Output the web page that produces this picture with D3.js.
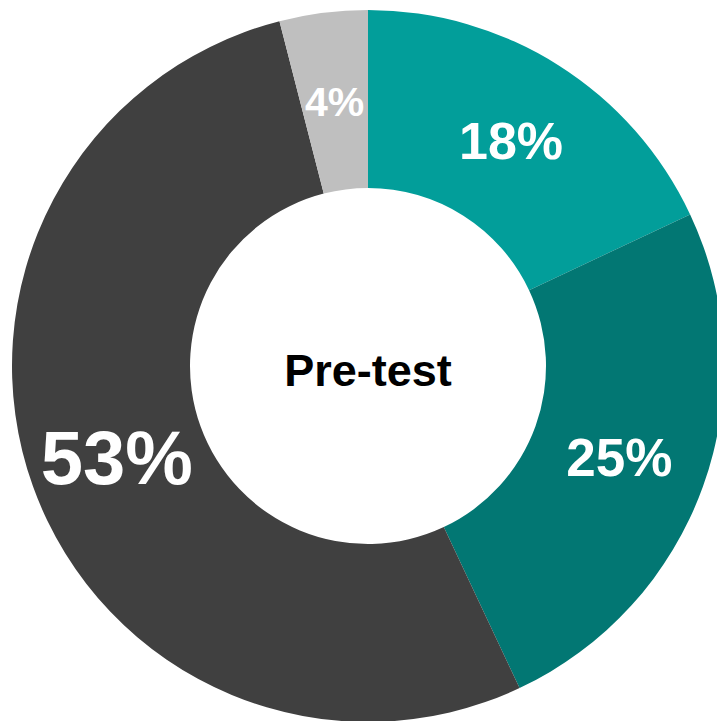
<!DOCTYPE html>
<html>
<head>
<meta charset="utf-8">
<script src="https://cdn.jsdelivr.net/npm/d3@7"></script>
<style>
  html, body { margin: 0; padding: 0; background: #fff; }
  svg { display: block; }
</style>
</head>
<body>
<svg id="chart" width="717" height="721"></svg>
<script>
// Daten
const categories = ["A", "B", "C", "D"];
const values = [18, 25, 53, 4];
const labels = ["18%", "25%", "53%", "4%"];
const centerLabel = "Pre-test";

// Stil
const colors = ["#029e9a", "#027773", "#404040", "#bfbfbf"];
const labelSizes = [52, 53, 76, 41];

const width = 717, height = 721;
const cx = 368, cy = 366;
const outerR = 356, innerR = 178;

const svg = d3.select("#chart");
const g = svg.append("g").attr("transform", `translate(${cx},${cy})`);

const pie = d3.pie().sort(null).value(d => d.value);
const arc = d3.arc().innerRadius(innerR).outerRadius(outerR);
const labelArc = d3.arc().innerRadius(innerR).outerRadius(outerR);

const data = categories.map((c, i) => ({ cat: c, value: values[i], label: labels[i], i }));
const arcs = pie(data);

g.selectAll("path")
    .data(arcs)
    .enter()
    .append("path")
    .attr("d", arc)
    .attr("fill", d => colors[d.data.i]);

g.selectAll("text.lbl")
    .data(arcs)
    .enter()
    .append("text")
    .attr("class", "lbl")
    .attr("transform", d => `translate(${labelArc.centroid(d)})`)
    .attr("text-anchor", "middle")
    .attr("dy", "0.36em")
    .style("font-family", "'Liberation Sans', Arial, sans-serif")
    .style("font-weight", "bold")
    .style("font-size", d => labelSizes[d.data.i] + "px")
    .style("fill", "#fff")
    .text(d => d.data.label);

g.append("text")
    .attr("x", 0)
    .attr("y", 20)
    .attr("text-anchor", "middle")
    .style("font-family", "'Liberation Sans', Arial, sans-serif")
    .style("font-weight", "bold")
    .style("font-size", "45px")
    .style("fill", "#000")
    .text(centerLabel);
</script>
</body>
</html>
